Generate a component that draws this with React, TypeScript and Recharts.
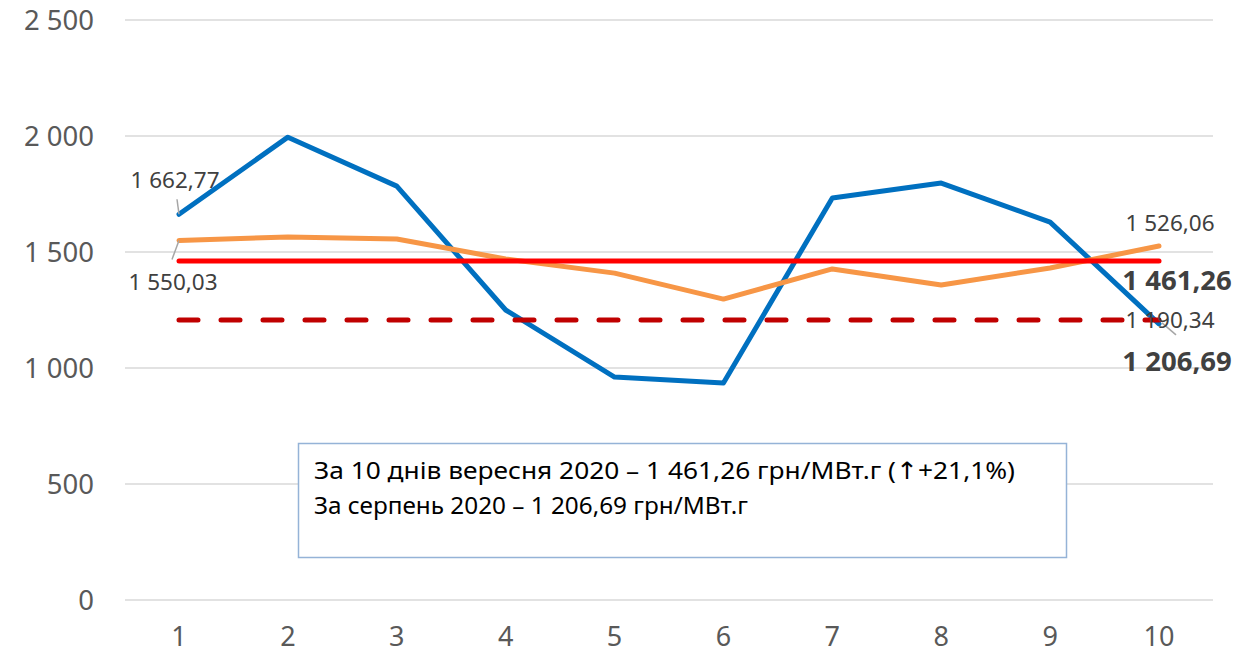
import React from 'react';
import { LineChart, Line, XAxis, YAxis, CartesianGrid, LabelList } from 'recharts';

const days = ['1', '2', '3', '4', '5', '6', '7', '8', '9', '10'];
const dailyPrices = [1662.77, 1995, 1784, 1250, 961, 935, 1733, 1797, 1629, 1190.34];
const compareDaily = [1550.03, 1565, 1556, 1470, 1409, 1297, 1427, 1358, 1431, 1526.06];
const septemberAvg = [1461.26, 1461.26, 1461.26, 1461.26, 1461.26, 1461.26, 1461.26, 1461.26, 1461.26, 1461.26];
const augustAvg = [1206.69, 1206.69, 1206.69, 1206.69, 1206.69, 1206.69, 1206.69, 1206.69, 1206.69, 1206.69];
const yTicks = [0, 500, 1000, 1500, 2000, 2500];
const noteLine1 = ['За 10 днів вересня 2020 – 1 461,26 грн/МВт.г (', '↑', '+21,1%)'];
const noteLine2 = 'За серпень 2020 – 1 206,69 грн/МВт.г';

const data = days.map((d, i) => ({
  day: d,
  daily: dailyPrices[i],
  compare: compareDaily[i],
  sep: septemberAvg[i],
  aug: augustAvg[i],
}));

const FONT = '"Noto Sans", sans-serif';

const thousands = (v: number) => String(v).replace(/\B(?=(\d{3})+(?!\d))/g, ' ');
const fmt = (v: number) => {
  const [a, b] = v.toFixed(2).split('.');
  return thousands(Number(a)) + ',' + b;
};

type LabelSpec = { dx: number; dy: number; bold?: boolean; leader?: [number, number, number, number] };

const makeLabel = (specs: Record<number, LabelSpec>) => (props: any) => {
  const { x, y, value, index } = props;
  const s = specs[index];
  if (!s) return null;
  return (
    <g>
      {s.leader && (
        <line
          x1={x + s.leader[0]}
          y1={y + s.leader[1]}
          x2={x + s.leader[2]}
          y2={y + s.leader[3]}
          stroke="#A6A6A6"
          strokeWidth={1.5}
        />
      )}
      <text
        x={x + s.dx}
        y={y + s.dy}
        textAnchor="middle"
        dominantBaseline="central"
        fontFamily={FONT}
        fontSize={s.bold ? 27.5 : 22.5}
        fontWeight={s.bold ? 700 : 400}
        fill="#404040"
      >
        {fmt(value)}
      </text>
    </g>
  );
};

const dailyLabels = makeLabel({
  0: { dx: -4, dy: -35, leader: [-2, -15, 0, 0] },
  9: { dx: 11, dy: -4, leader: [3, -1, 17, 11] },
});
const compareLabels = makeLabel({
  0: { dx: -6, dy: 41, leader: [-7, 19, 0, 0] },
  9: { dx: 11, dy: -23 },
});
const sepLabels = makeLabel({ 9: { dx: 18, dy: 19, bold: true } });
const augLabels = makeLabel({ 9: { dx: 18, dy: 40, bold: true } });

const App = () => {
  return (
    <div style={{ position: 'absolute', left: 0, top: 0, width: 1236, height: 653, background: '#fff' }}>
      <LineChart width={1236} height={653} data={data} margin={{ top: 20, right: 23, bottom: 0, left: 0 }}>
        <CartesianGrid vertical={false} stroke="#D9D9D9" strokeWidth={1.5} />
        <XAxis
          dataKey="day"
          axisLine={false}
          tickLine={false}
          tickSize={0}
          tickMargin={27}
          height={53}
          padding={{ left: 54, right: 54 }}
          tick={{ fontFamily: FONT, fontSize: 27, fill: '#595959' }}
          interval={0}
        />
        <YAxis
          domain={[0, 2500]}
          ticks={yTicks}
          axisLine={false}
          tickLine={false}
          tickSize={0}
          tickMargin={31}
          width={125}
          tickFormatter={thousands}
          tick={{ fontFamily: FONT, fontSize: 27.5, fill: '#595959' }}
        />
        <Line dataKey="daily" stroke="#0070C0" strokeWidth={5} dot={false} strokeLinecap="round" strokeLinejoin="round" isAnimationActive={false} />
        <Line dataKey="compare" stroke="#F79646" strokeWidth={5} dot={false} strokeLinecap="round" strokeLinejoin="round" isAnimationActive={false}>
          <LabelList dataKey="compare" content={compareLabels} />
        </Line>
        <Line dataKey="sep" stroke="#FF0000" strokeWidth={5} dot={false} strokeLinecap="round" isAnimationActive={false}>
          <LabelList dataKey="sep" content={sepLabels} />
        </Line>
        <Line dataKey="aug" stroke="#C00000" strokeWidth={5} strokeDasharray="19 23" dot={false} strokeLinecap="round" isAnimationActive={false}>
          <LabelList dataKey="aug" content={augLabels} />
        </Line>
        <Line dataKey="daily" stroke="none" dot={false} activeDot={false} isAnimationActive={false}>
          <LabelList dataKey="daily" content={dailyLabels} />
        </Line>
      </LineChart>
      <svg width={1236} height={653} style={{ position: 'absolute', left: 0, top: 0, pointerEvents: 'none' }}>
        <rect x={298.5} y={443.5} width={768} height={114} fill="#fff" stroke="#95B3D7" strokeWidth={1.5} />
        <text x={314} y={479} fontFamily={FONT} fontSize={24} fill="#000" textLength={701} lengthAdjust="spacingAndGlyphs">
          {noteLine1[0]}
          <tspan fontFamily='"DejaVu Sans", sans-serif' fontSize={24}>{noteLine1[1]}</tspan>
          {noteLine1[2]}
        </text>
        <text x={314} y={514} fontFamily={FONT} fontSize={24} fill="#000" textLength={434} lengthAdjust="spacingAndGlyphs">
          {noteLine2}
        </text>
      </svg>
    </div>
  );
};

export default App;
